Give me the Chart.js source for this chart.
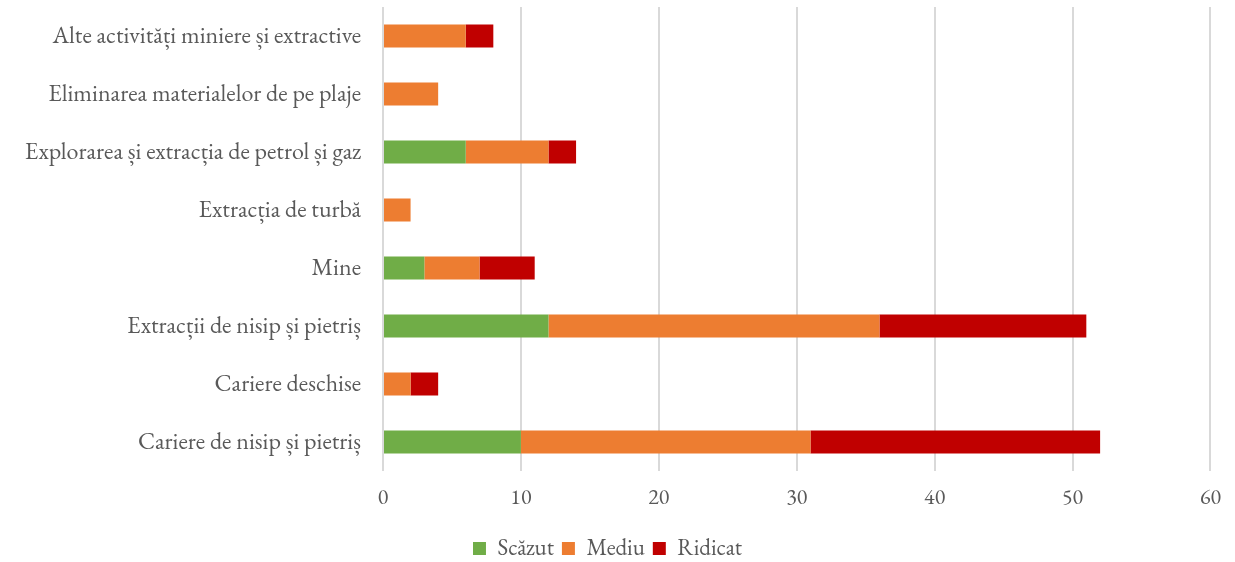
<!DOCTYPE html>
<html>
<head>
<meta charset="utf-8">
<script src="https://cdn.jsdelivr.net/npm/chart.js@4"></script>
<style>
  body { margin: 0; background: #fff; }
  #wrap { width: 1235px; height: 562px; }
</style>
</head>
<body>
<div id="wrap"><canvas id="mycanvas" width="1235" height="562"></canvas></div>
<script>
// categories, top to bottom
var categories = [
  "Alte activități miniere și extractive",
  "Eliminarea materialelor de pe plaje",
  "Explorarea și extracția de petrol și gaz",
  "Extracția de turbă",
  "Mine",
  "Extracții de nisip și pietriș",
  "Cariere deschise",
  "Cariere de nisip și pietriș"
];
var scazut  = [0, 0, 6, 0, 3, 12, 0, 10];
var mediu   = [6, 4, 6, 2, 4, 24, 2, 21];
var ridicat = [2, 0, 2, 0, 4, 15, 2, 21];
var xTicks = [0, 10, 20, 30, 40, 50, 60];

var fontFamily = "Garamond, 'EB Garamond', 'Liberation Serif', serif";
var textColor = "#595959";

var chartdata = {
  labels: categories,
  datasets: [
    { label: "Scăzut", data: scazut, backgroundColor: "#70AD47" },
    { label: "Mediu", data: mediu, backgroundColor: "#ED7D31" },
    { label: "Ridicat", data: ridicat, backgroundColor: "#C00000" }
  ]
};

var ctx = document.getElementById("mycanvas");
var chart = new Chart(ctx, {
  type: "bar",
  data: chartdata,
  options: {
    indexAxis: "y",
    responsive: false,
    animation: false,
    layout: { padding: { top: 7, right: 20, bottom: -8, left: 0 } },
    datasets: { bar: { categoryPercentage: 1, barPercentage: 0.4, borderWidth: 0 } },
    plugins: {
      tooltip: { enabled: false },
      legend: {
        position: "bottom",
        labels: {
          color: textColor,
          font: { family: fontFamily, size: 23 },
          boxWidth: 13, boxHeight: 13,
          padding: 8
        }
      }
    },
    scales: {
      x: {
        stacked: true,
        min: 0, max: 60,
        afterBuildTicks: function (scale) {
          scale.ticks = xTicks.map(function (v) { return { value: v }; });
        },
        afterFit: function (scale) { scale.height = 58; },
        grid: { color: "#d9d9d9", lineWidth: 2, drawTicks: false },
        border: { display: false },
        ticks: { color: textColor, font: { family: fontFamily, size: 22 }, padding: 14, maxRotation: 0 }
      },
      y: {
        stacked: true,
        afterFit: function (scale) {
          scale.width = 383;
          scale.paddingTop = 0;
          scale.paddingBottom = 0;
        },
        grid: { display: false },
        border: { display: false },
        ticks: { color: textColor, font: { family: fontFamily, size: 24 }, padding: 14 }
      }
    }
  }
});
</script>
</body>
</html>
